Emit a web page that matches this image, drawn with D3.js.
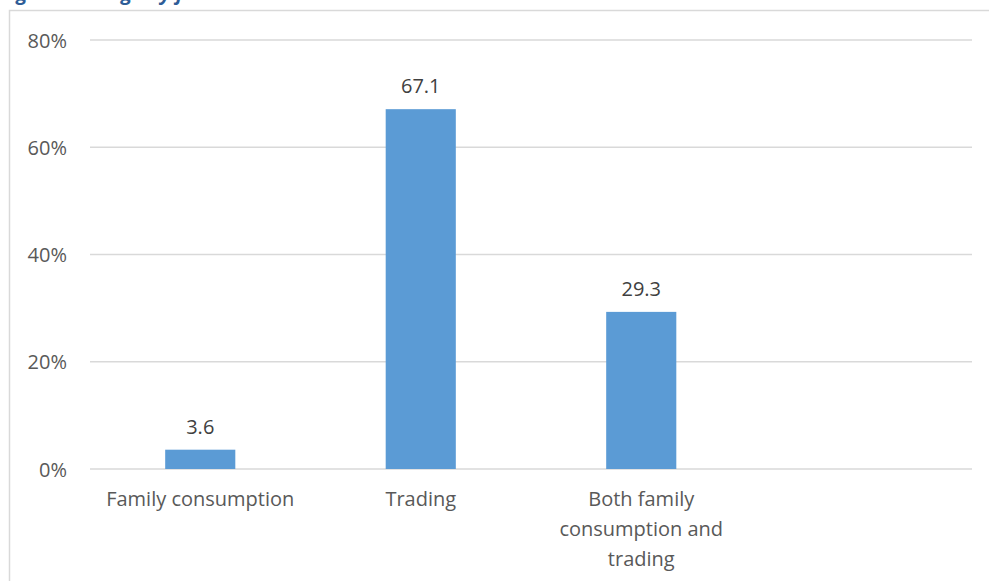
<!DOCTYPE html>
<html><head><meta charset="utf-8">
<script src="https://cdn.jsdelivr.net/npm/d3@7"></script>
<style>body{margin:0;background:#fff;} svg{display:block;}</style>
</head><body>
<svg id="c" width="989" height="581"></svg>
<script>
const categories = ["Family consumption", "Trading", "Both family consumption and trading", ""];
const categoryLines = [["Family consumption"], ["Trading"], ["Both family", "consumption and", "trading"], []];
const values = [3.6, 67.1, 29.3, null];
const dataLabels = ["3.6", "67.1", "29.3", ""];
const yTicks = [0, 20, 40, 60, 80];
const yTickLabels = ["0%", "20%", "40%", "60%", "80%"];
const title = "Figure 4: Usage by farmers";

const svg = d3.select("#c");
const font = "'Open Sans', sans-serif";

// title (cut off at top, as in the reference)
svg.append("text").attr("x", 0).attr("y", 0).attr("font-family", font)
  .attr("font-size", 20).attr("font-style", "italic").attr("font-weight", "bold")
  .attr("fill", "#2e5d97").text(title);

// frame
svg.append("path").attr("d", "M9.5,600 V10.5 H1000").attr("fill", "none")
  .attr("stroke", "#d9d9d9").attr("stroke-width", 1.5);

const x = d3.scaleBand().domain(categories.map((c,i)=>i)).range([90, 972]).paddingInner(0.682).paddingOuter(0.341);
const y = d3.scaleLinear().domain([0, 80]).range([469, 40]);

// gridlines
svg.append("g").selectAll("line").data(yTicks).join("line")
  .attr("x1", 90).attr("x2", 972).attr("y1", d=>y(d)).attr("y2", d=>y(d))
  .attr("stroke", "#d9d9d9").attr("stroke-width", 1.3);

// y axis labels
const yAxis = d3.axisLeft(y).tickValues(yTicks).tickFormat((d,i)=>yTickLabels[i]).tickSize(0).tickPadding(0);
const ga = svg.append("g").attr("transform", "translate(67,0)").call(yAxis);
ga.select(".domain").remove();
ga.selectAll("text").attr("font-family", font).attr("font-size", 20).attr("fill", "#595959").attr("dy", "0.35em");

// bars
svg.append("g").selectAll("rect").data(values.map((v,i)=>({v,i})).filter(d=>d.v!=null)).join("rect")
  .attr("x", d=>x(d.i)).attr("width", x.bandwidth())
  .attr("y", d=>y(d.v)).attr("height", d=>y(0)-y(d.v))
  .attr("fill", "#5b9bd5");

// data labels
svg.append("g").selectAll("text").data(values.map((v,i)=>({v,i})).filter(d=>d.v!=null)).join("text")
  .attr("x", d=>x(d.i)+x.bandwidth()/2).attr("y", d=>y(d.v)-16)
  .attr("text-anchor", "middle").attr("font-family", font).attr("font-size", 20).attr("fill", "#404040")
  .text(d=>dataLabels[d.i]);

// category labels
const gc = svg.append("g");
categoryLines.forEach((lines, i) => {
  const t = gc.append("text").attr("x", x(i)+x.bandwidth()/2).attr("y", 506)
    .attr("text-anchor", "middle").attr("font-family", font).attr("font-size", 20).attr("fill", "#595959");
  lines.forEach((l, j) => t.append("tspan").attr("x", x(i)+x.bandwidth()/2).attr("dy", j===0?0:30).text(l));
});
</script>
</body></html>
